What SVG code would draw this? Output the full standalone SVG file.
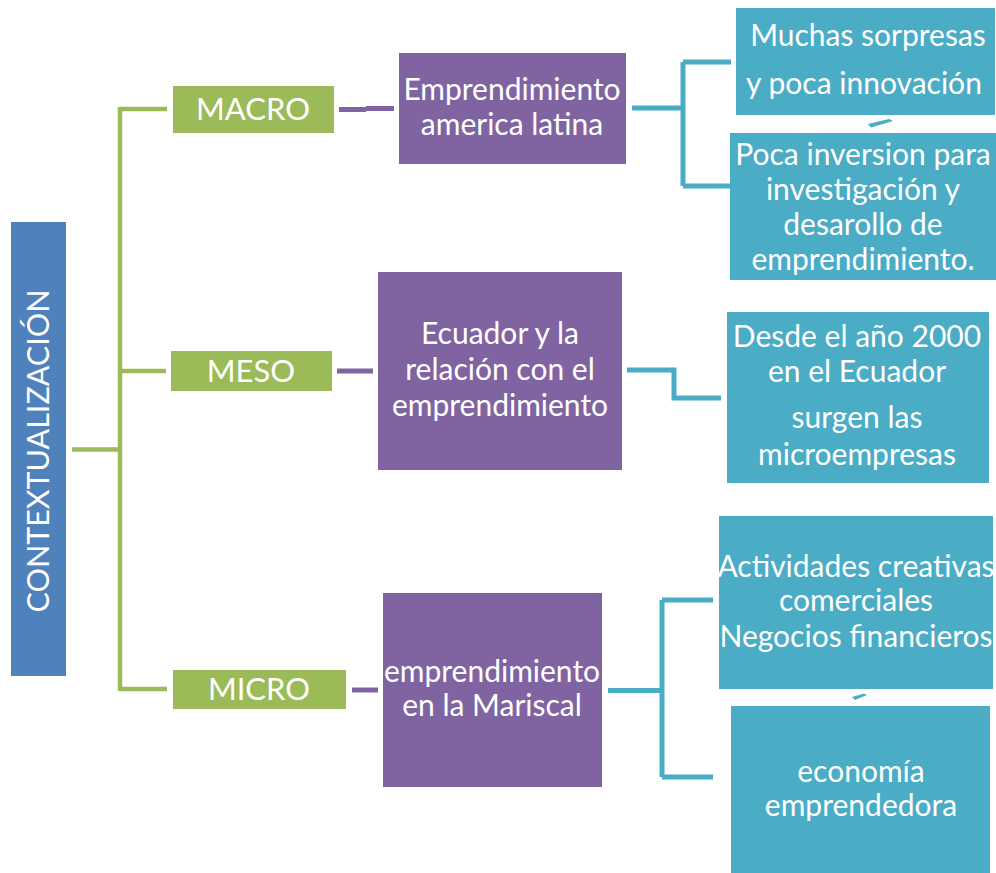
<svg xmlns="http://www.w3.org/2000/svg" width="996" height="873" viewBox="0 0 996 873">
<style>
text{font-family:Lato,"Liberation Sans",sans-serif;fill:#fff;text-anchor:middle}
.blue{fill:#4F81BD}
.green{fill:#9BBB59}
.purple{fill:#8064A2}
.teal{fill:#4BACC6}
.cg{fill:none;stroke:#9BBB59;stroke-width:4.5}
.cp{fill:none;stroke:#8064A2;stroke-width:5}
.ct{fill:none;stroke:#4BACC6;stroke-width:5}
.t30{font-size:30px}
.t32{font-size:31px}
.tv{font-size:30.5px}
</style>
<rect width="996" height="873" fill="#fff"/>
<g id="connectors">
<path class="cg" d="M72 449.5H120M120 107V691M120 109H167M120 371H166M120 689H167"/>
<path class="cp" d="M339 109.5H366M366 108.5H394"/>
<path class="cp" d="M337 371H373"/>
<path class="cp" d="M352 690H378"/>
<path class="ct" d="M632 108H683M683 62V186M683 62H731M683 186H733"/>
<path class="ct" d="M627 370H674V398H721"/>
<path class="ct" d="M608 690.5H662M662 600V777M662 600H713M662 777H713"/>
<polygon class="teal" points="868,124 889,119 893,121 871,127.5"/>
<polygon class="teal" points="852,697 864,693.5 867,695 855,700"/>
</g>
<g id="contextualizacion">
<rect class="blue" x="11" y="222" width="55" height="454"/>
<text class="tv" transform="translate(49 451) rotate(-90)">CONTEXTUALIZACIÓN</text>
</g>
<g id="macro">
<rect class="green" x="173" y="86" width="161" height="47"/>
<text class="t32" x="253" y="120">MACRO</text>
</g>
<g id="meso">
<rect class="green" x="171" y="351" width="161" height="40"/>
<text class="t32" x="251" y="382">MESO</text>
</g>
<g id="micro">
<rect class="green" x="173" y="670" width="173" height="39"/>
<text class="t32" x="259" y="700">MICRO</text>
</g>
<g id="emprendimiento-america">
<rect class="purple" x="399" y="53" width="227" height="111"/>
<text class="t30" x="512" y="100">Emprendimiento</text>
<text class="t30" x="512" y="135">america latina</text>
</g>
<g id="ecuador-relacion">
<rect class="purple" x="378" y="272" width="244" height="198"/>
<text class="t30" x="500" y="344">Ecuador y la</text>
<text class="t30" x="500" y="380">relación con el</text>
<text class="t30" x="500" y="416">emprendimiento</text>
</g>
<g id="emprendimiento-mariscal">
<rect class="purple" x="383" y="593" width="219" height="194"/>
<text class="t30" x="492" y="682">emprendimiento</text>
<text class="t30" x="492" y="716">en la Mariscal</text>
</g>
<g id="muchas-sorpresas">
<rect class="teal" x="736" y="8" width="259" height="107"/>
<text class="t30" x="868" y="46">Muchas sorpresas</text>
<text class="t30" x="864" y="94">y poca innovación</text>
</g>
<g id="poca-inversion">
<rect class="teal" x="730" y="133" width="266" height="147"/>
<text class="t30" x="863" y="165">Poca inversion para</text>
<text class="t30" x="863" y="200">investigación y</text>
<text class="t30" x="863" y="235">desarollo de</text>
<text class="t30" x="863" y="270">emprendimiento.</text>
</g>
<g id="desde-2000">
<rect class="teal" x="727" y="312" width="262" height="171"/>
<text class="t30" x="857" y="347">Desde el año 2000</text>
<text class="t30" x="857" y="382">en el Ecuador</text>
<text class="t30" x="857" y="428">surgen las</text>
<text class="t30" x="857" y="465">microempresas</text>
</g>
<g id="actividades">
<rect class="teal" x="719" y="516" width="274" height="173"/>
<text class="t30" x="856" y="577">Actividades creativas</text>
<text class="t30" x="856" y="611">comerciales</text>
<text class="t30" x="856" y="647">Negocios financieros</text>
</g>
<g id="economia">
<rect class="teal" x="731" y="706" width="259" height="167"/>
<text class="t30" x="861" y="782">economía</text>
<text class="t30" x="861" y="816">emprendedora</text>
</g>
</svg>
